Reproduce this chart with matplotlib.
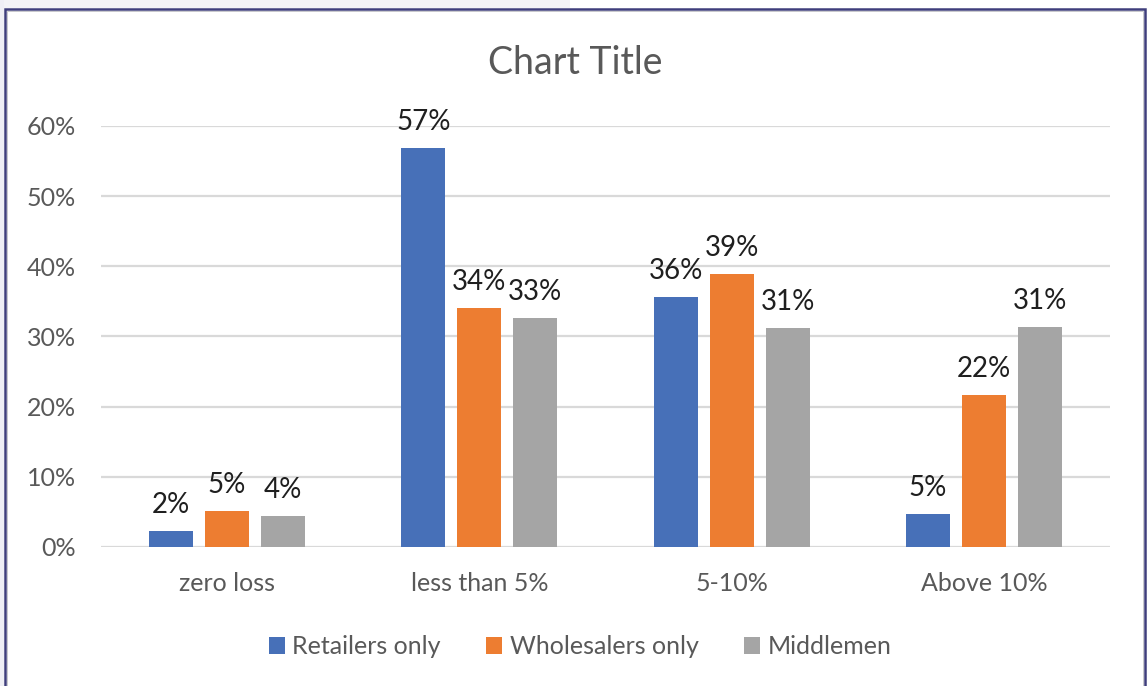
import matplotlib
matplotlib.use("Agg")
import matplotlib.pyplot as plt
from matplotlib.patches import Rectangle, Patch
from matplotlib.ticker import PercentFormatter, MultipleLocator
import numpy as np

plt.rcParams["font.family"] = ["Lato", "DejaVu Sans"]

categories = ["zero loss", "less than 5%", "5-10%", "Above 10%"]
series_names = ["Retailers only", "Wholesalers only", "Middlemen"]
retailers = [0.023, 0.569, 0.356, 0.047]
wholesalers = [0.051, 0.341, 0.389, 0.216]
middlemen = [0.044, 0.326, 0.312, 0.313]
colors = ["#4770B8", "#ED7D31", "#A5A5A5"]

W, H = 1148, 686
fig = plt.figure(figsize=(W / 100, H / 100), dpi=100)
fig.patch.set_facecolor("white")

# light strips outside the chart frame
fig.patches.append(Rectangle((0, 1 - 8 / H), 570 / W, 8 / H, transform=fig.transFigure,
                             facecolor="#f3f3f6", edgecolor="none", zorder=0))
fig.patches.append(Rectangle((0, 0), 4 / W, 1, transform=fig.transFigure,
                             facecolor="#efeff5", edgecolor="none", zorder=0))
# chart frame
fig.patches.append(Rectangle((5 / W, -0.05), 1140 / W, 1.05 - 9 / H, transform=fig.transFigure,
                             facecolor="none", edgecolor="#3f3e7c", linewidth=1.8, zorder=5))
fig.patches.append(Rectangle((7 / W, -0.05), 1136 / W, 1.05 - 11 / H, transform=fig.transFigure,
                             facecolor="none", edgecolor="#c8c8cc", linewidth=0.7, zorder=5))

ax = fig.add_axes([101 / W, (H - 547) / H, 1009 / W, 421 / H])
x = np.arange(len(categories))
bw = 44 / 252
step = 56 / 252
label_color = "#1f1f1f"

for i, (vals, name, c) in enumerate(zip([retailers, wholesalers, middlemen], series_names, colors)):
    pos = x + (i - 1) * step
    ax.bar(pos, vals, width=bw, color=c, label=name, zorder=3)
    for xp, v in zip(pos, vals):
        ax.annotate(f"{round(v * 100):.0f}%", (xp, v), xytext=(0, 13), textcoords="offset points",
                    ha="center", va="baseline", fontsize=20, color=label_color)

ax.set_xlim(-0.5, len(categories) - 0.5)
ax.set_ylim(0, 0.6)
ax.yaxis.set_major_locator(MultipleLocator(0.1))
ax.yaxis.set_major_formatter(PercentFormatter(1.0, decimals=0))
ax.set_xticks(x)
ax.set_xticklabels(categories)
ax.grid(axis="y", color="#d9d9d9", linewidth=1.6, zorder=0)
for s in ["top", "right", "left", "bottom"]:
    ax.spines[s].set_visible(False)
ax.tick_params(axis="both", length=0, colors="#595959", labelsize=18)
ax.tick_params(axis="y", pad=18)
ax.tick_params(axis="x", pad=18)

fig.text(575 / W, 1 - 63 / H, "Chart Title", ha="center", va="center", fontsize=27, color="#595959")

handles = [Patch(facecolor=c, edgecolor="none") for c in colors]
fig.legend(handles, series_names, loc="center", bbox_to_anchor=(580 / W, (H - 647) / H), ncol=3,
           frameon=False, fontsize=18, labelcolor="#595959", handlelength=0.65, handleheight=0.65,
           handletextpad=0.3, columnspacing=1.8)

fig.savefig("out.png", dpi=100)
